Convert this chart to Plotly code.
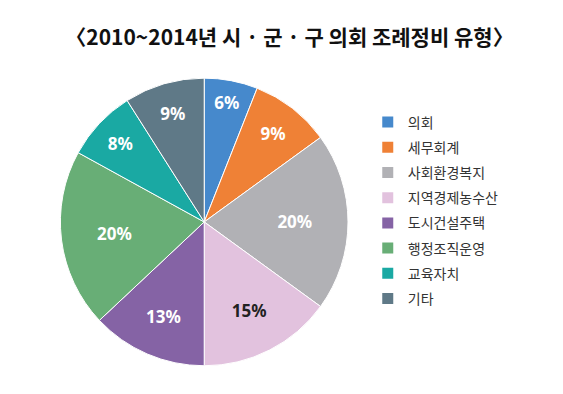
import plotly.graph_objects as go

categories = ["의회", "세무회계", "사회환경복지", "지역경제농수산", "도시건설주택", "행정조직운영", "교육자치", "기타"]
values = [6, 9, 20, 15, 13, 20, 8, 9]
colors = ["#4689cc", "#ef8136", "#b1b1b5", "#e2c2de", "#8563a5", "#68ae76", "#1aa9a3", "#5f7987"]
text_colors = ["white", "white", "white", "#222222", "white", "white", "white", "white"]
title = "〈2010~2014년 시 · 군 · 구 의회 조례정비 유형〉"

fig = go.Figure()
fig.add_trace(go.Pie(
    labels=categories,
    values=values,
    sort=False,
    direction="clockwise",
    rotation=0,
    marker=dict(colors=colors, line=dict(color="white", width=1)),
    texttemplate="<b>%{value}%</b>",
    textposition="inside",
    insidetextorientation="horizontal",
    textfont=dict(family="Noto Sans, sans-serif", size=17, color=text_colors),
    domain=dict(x=[0.092, 0.605], y=[0.092, 0.822]),
    hoverinfo="label+value",
    showlegend=False,
))

# legend entries
for i, (cat, col) in enumerate(zip(categories, colors)):
    fig.add_trace(go.Scatter(
        x=[None], y=[None], mode="markers", name=cat,
        marker=dict(symbol="square", size=11, color=col),
        legendgroup="g%d" % i, showlegend=True, hoverinfo="skip",
    ))

fig.update_layout(
    width=563, height=394,
    margin=dict(l=0, r=0, t=0, b=0),
    paper_bgcolor="white",
    plot_bgcolor="white",
    xaxis=dict(visible=False),
    yaxis=dict(visible=False),
    title=dict(text="<b>" + title + "</b>", x=0.5, xanchor="center", y=0.925, yanchor="middle",
               font=dict(family="Noto Sans CJK KR, sans-serif", size=21, color="#111111")),
    legend=dict(x=0.639, y=0.75, xanchor="left", yanchor="top",
                font=dict(family="Noto Sans CJK KR, sans-serif", size=14, color="#333333"),
                tracegroupgap=4, itemwidth=30, bgcolor="rgba(0,0,0,0)"),
    uniformtext=dict(minsize=12, mode="show"),
)

fig.write_html("out.html")
